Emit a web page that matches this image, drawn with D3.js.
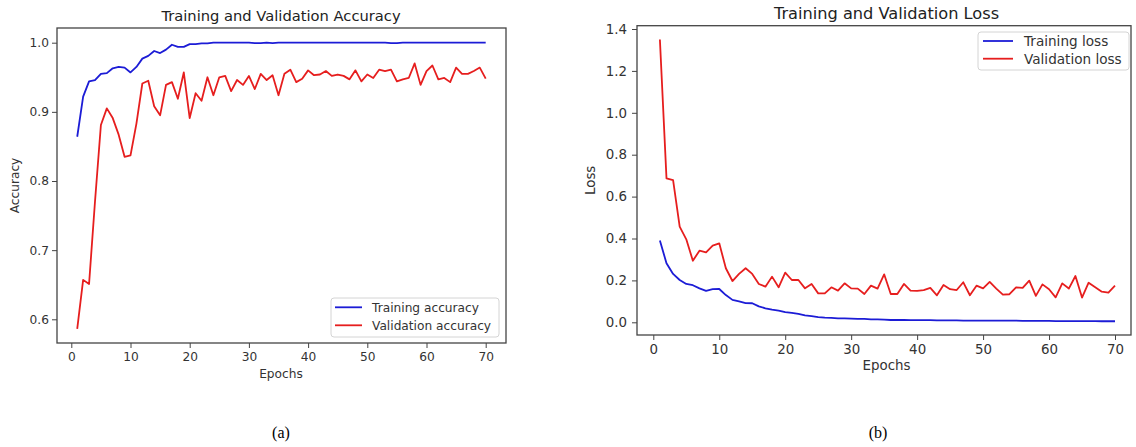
<!DOCTYPE html>
<html>
<head>
<meta charset="utf-8">
<script src="https://cdn.jsdelivr.net/npm/d3@7"></script>
<style>
  body { margin: 0; background: #fff; }
  svg { display: block; }
</style>
</head>
<body>
<svg id="chart" width="1136" height="447"></svg>
<script>
// epochs 1..70
const epochs = d3.range(1, 71)

const trainAcc = [
  0.864, 0.922, 0.944, 0.946, 0.955, 0.956, 0.963, 0.965, 0.964, 0.957,
  0.965, 0.977, 0.981, 0.988, 0.985, 0.990, 0.997, 0.994, 0.994, 0.998,
  0.998, 0.999, 0.999, 1.000, 1.000, 1.000, 1.000, 1.000, 1.000, 1.000,
  0.9995, 0.9995, 1.000, 0.9995, 1.000, 1.000, 1.000, 1.000, 1.000, 1.000,
  1.000, 1.000, 1.000, 1.000, 1.000, 1.000, 1.000, 1.000, 1.000, 1.000,
  1.000, 1.000, 1.000, 0.9995, 0.9995, 1.000, 1.000, 1.000, 1.000, 1.000,
  1.000, 1.000, 1.000, 1.000, 1.000, 1.000, 1.000, 1.000, 1.000, 1.000
]
const valAcc = [
  0.586, 0.657, 0.651, 0.770, 0.881, 0.905, 0.891, 0.867, 0.835, 0.837,
  0.883, 0.941, 0.945, 0.908, 0.895, 0.939, 0.943, 0.919, 0.957, 0.891,
  0.927, 0.916, 0.950, 0.924, 0.950, 0.952, 0.930, 0.946, 0.939, 0.952,
  0.933, 0.955, 0.946, 0.953, 0.924, 0.955, 0.961, 0.943, 0.948, 0.960,
  0.953, 0.954, 0.959, 0.952, 0.954, 0.952, 0.947, 0.960, 0.944, 0.954,
  0.949, 0.961, 0.959, 0.961, 0.944, 0.947, 0.949, 0.970, 0.939, 0.959,
  0.967, 0.947, 0.949, 0.943, 0.964, 0.955, 0.955, 0.959, 0.964, 0.948
]
const trainLoss = [
  0.390, 0.282, 0.231, 0.202, 0.183, 0.177, 0.162, 0.150, 0.158, 0.159,
  0.130, 0.107, 0.100, 0.092, 0.091, 0.076, 0.067, 0.060, 0.056, 0.049,
  0.045, 0.040, 0.033, 0.029, 0.025, 0.022, 0.021, 0.019, 0.019, 0.018,
  0.016, 0.016, 0.014, 0.014, 0.013, 0.011, 0.011, 0.011, 0.010, 0.010,
  0.010, 0.010, 0.009, 0.009, 0.009, 0.009, 0.008, 0.008, 0.008, 0.008,
  0.008, 0.008, 0.008, 0.008, 0.008, 0.007, 0.007, 0.007, 0.007, 0.007,
  0.006, 0.006, 0.006, 0.006, 0.006, 0.006, 0.006, 0.005, 0.005, 0.005
]
const valLoss = [
  1.350, 0.687, 0.679, 0.457, 0.396, 0.294, 0.342, 0.334, 0.366, 0.377,
  0.258, 0.197, 0.231, 0.258, 0.231, 0.183, 0.170, 0.218, 0.167, 0.237,
  0.202, 0.202, 0.162, 0.183, 0.138, 0.138, 0.167, 0.151, 0.186, 0.162,
  0.161, 0.135, 0.175, 0.161, 0.229, 0.135, 0.135, 0.183, 0.151, 0.150,
  0.154, 0.164, 0.129, 0.178, 0.158, 0.154, 0.191, 0.129, 0.175, 0.162,
  0.193, 0.161, 0.132, 0.134, 0.167, 0.164, 0.199, 0.126, 0.181, 0.158,
  0.119, 0.186, 0.161, 0.221, 0.118, 0.189, 0.167, 0.146, 0.142, 0.175
]

const epochTicks = [0, 10, 20, 30, 40, 50, 60, 70]
const accTicks = [0.6, 0.7, 0.8, 0.9, 1.0]
const lossTicks = [0.0, 0.2, 0.4, 0.6, 0.8, 1.0, 1.2, 1.4]

const BLUE = '#1c1cd6'
const RED = '#e61e1e'
const FONT = '"DejaVu Sans", sans-serif'

const svg = d3.select('#chart')

function drawPanel(cfg) {
  const { frame, fs } = cfg
  const g = svg.append('g')

  const x = d3.scaleLinear().domain([0, 70]).range(cfg.xRange)
  const y = d3.scaleLinear().domain(cfg.yDomain).range(cfg.yRange)

  // ticks
  const yAxis = d3.axisLeft(y).tickValues(cfg.yTicks).tickFormat(d3.format('.1f'))
    .tickSize(5).tickPadding(cfg.yPad)
  const xAxis = d3.axisBottom(x).tickValues(epochTicks).tickFormat(d3.format('d'))
    .tickSize(5).tickPadding(cfg.xPad)

  const ya = g.append('g').attr('transform', `translate(${frame.x0},0)`).call(yAxis)
  const xa = g.append('g').attr('transform', `translate(0,${frame.y1})`).call(xAxis)
  for (const a of [ya, xa]) {
    a.select('.domain').remove()
    a.selectAll('line').attr('stroke', '#444').attr('stroke-width', 1)
    a.selectAll('text').attr('fill', '#333').attr('font-size', fs).attr('font-family', FONT)
  }

  // lines
  const line = d3.line().x(d => x(d[0])).y(d => y(d[1]))
  cfg.series.forEach(s => {
    g.append('path')
      .datum(epochs.map((e, i) => [e, s.values[i]]))
      .attr('d', line)
      .attr('fill', 'none')
      .attr('stroke', s.color)
      .attr('stroke-width', 1.8)
      .attr('stroke-linejoin', 'round')
  })

  // axes frame
  g.append('rect')
    .attr('x', frame.x0).attr('y', frame.y0)
    .attr('width', frame.x1 - frame.x0).attr('height', frame.y1 - frame.y0)
    .attr('fill', 'none').attr('stroke', '#444').attr('stroke-width', 1.3)

  g.append('text')
    .attr('x', cfg.cx).attr('y', cfg.titleY)
    .attr('text-anchor', 'middle')
    .attr('font-family', FONT).attr('font-size', cfg.titleFs).attr('fill', '#222')
    .text(cfg.title)

  g.append('text')
    .attr('x', cfg.cx).attr('y', cfg.xLabelY)
    .attr('text-anchor', 'middle')
    .attr('font-family', FONT).attr('font-size', fs).attr('fill', '#333')
    .text('Epochs')

  const cy = (frame.y0 + frame.y1) / 2
  g.append('text')
    .attr('transform', `translate(${cfg.yLabelX},${cy}) rotate(-90)`)
    .attr('text-anchor', 'middle')
    .attr('font-family', FONT).attr('font-size', fs).attr('fill', '#333')
    .text(cfg.yLabel)

  // legend
  const L = cfg.legend
  const lg = g.append('g')
  lg.append('rect')
    .attr('x', L.x0).attr('y', L.y0)
    .attr('width', L.x1 - L.x0).attr('height', L.y1 - L.y0)
    .attr('rx', 3)
    .attr('fill', '#fff').attr('stroke', '#d4d4d4')
  cfg.series.forEach((s, i) => {
    const ry = L.rows[i]
    lg.append('line')
      .attr('x1', L.lineX[0]).attr('x2', L.lineX[1])
      .attr('y1', ry).attr('y2', ry)
      .attr('stroke', s.color).attr('stroke-width', 1.8)
    lg.append('text')
      .attr('x', L.textX).attr('y', ry)
      .attr('dy', '0.36em')
      .attr('font-family', FONT).attr('font-size', L.fs).attr('fill', '#333')
      .text(s.label)
  })
}

drawPanel({
  frame: { x0: 57, x1: 506, y0: 28, y1: 343 },
  xRange: [71.3, 485.7],
  yDomain: [0.6, 1.0], yRange: [319.3, 42.7],
  yTicks: accTicks, yPad: 3, xPad: 4,
  fs: 12.2, titleFs: 14.7,
  title: 'Training and Validation Accuracy', titleY: 21,
  cx: 281, xLabelY: 377.5, yLabelX: 19, yLabel: 'Accuracy',
  series: [
    { label: 'Training accuracy', values: trainAcc, color: BLUE },
    { label: 'Validation accuracy', values: valAcc, color: RED }
  ],
  legend: { x0: 331, x1: 499, y0: 298, y1: 337, rows: [307.3, 325.3], lineX: [335, 362], textX: 372, fs: 12.2 }
})

drawPanel({
  frame: { x0: 637, x1: 1131, y0: 25.7, y1: 335 },
  xRange: [653.3, 1115],
  yDomain: [0, 1.4], yRange: [322.3, 29],
  yTicks: lossTicks, yPad: 5, xPad: 4.5,
  fs: 13.4, titleFs: 16.2,
  title: 'Training and Validation Loss', titleY: 19,
  cx: 886.5, xLabelY: 369.5, yLabelX: 595, yLabel: 'Loss',
  series: [
    { label: 'Training loss', values: trainLoss, color: BLUE },
    { label: 'Validation loss', values: valLoss, color: RED }
  ],
  legend: { x0: 978, x1: 1129, y0: 32, y1: 70, rows: [41, 58.7], lineX: [983, 1013], textX: 1024, fs: 13.6 }
})

// sub-figure captions
svg.selectAll('text.caption')
  .data([{ t: '(a)', x: 281 }, { t: '(b)', x: 878 }])
  .enter().append('text')
  .attr('class', 'caption')
  .attr('x', d => d.x).attr('y', 438)
  .attr('text-anchor', 'middle')
  .attr('font-family', '"Liberation Serif", "Times New Roman", serif')
  .attr('font-size', 16).attr('fill', '#000')
  .text(d => d.t)
</script>
</body>
</html>
